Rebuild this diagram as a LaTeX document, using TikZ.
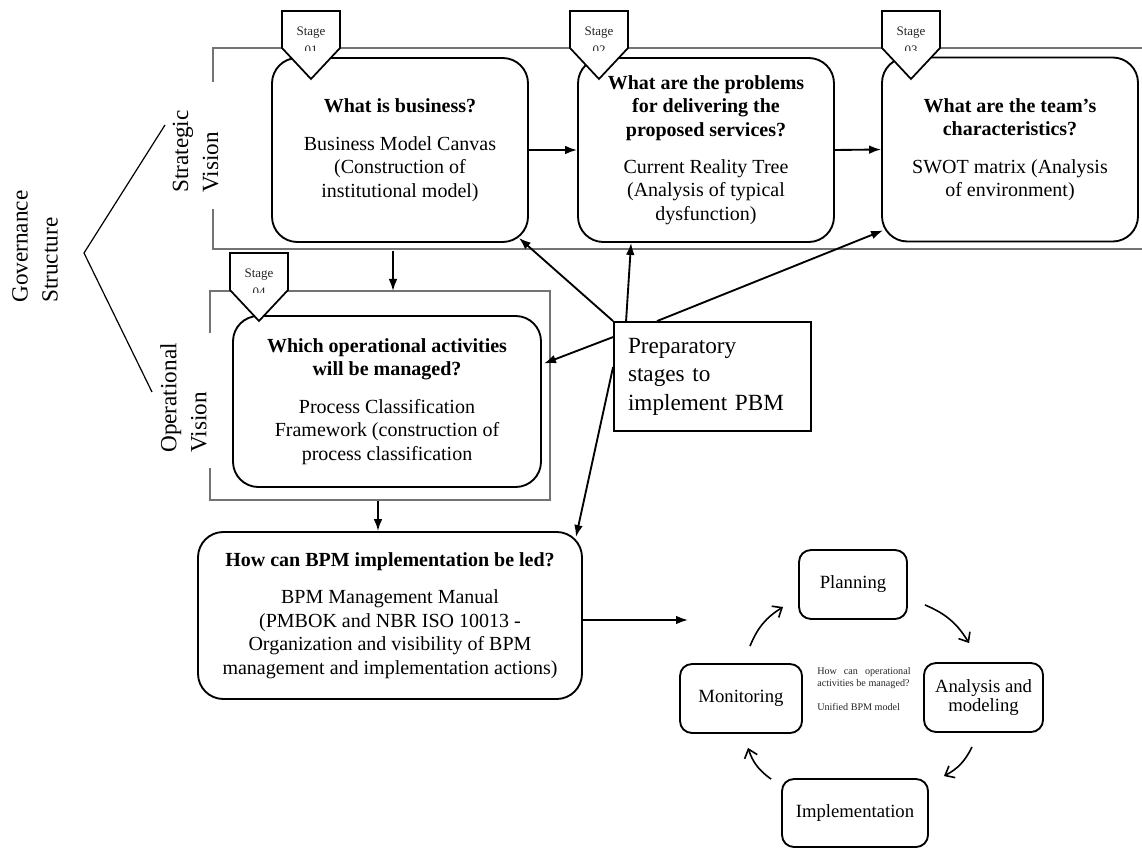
\documentclass[tikz,border=0pt]{standalone}
\usepackage{fontspec}
\setmainfont{Liberation Serif}
\usetikzlibrary{arrows.meta,calc}

\begin{document}
\begin{tikzpicture}[x=0.75pt,y=-0.75pt,
  qbox/.style={draw, line width=1.4pt, rounded corners=19pt, align=center,
    inner sep=0pt, font=\fontsize{15}{17.6}\selectfont},
  cbox/.style={draw, line width=1.4pt, rounded corners=9pt, align=center,
    inner sep=0pt, minimum height=51.75pt, font=\fontsize{14}{14}\selectfont},
  prepbox/.style={draw, line width=1.4pt, align=left, inner xsep=10.5pt,
    inner ysep=0pt, text width=126.75pt, minimum height=81.75pt,
    font=\fontsize{17.4}{21.4}\selectfont},
  vlabel/.style={rotate=90, anchor=west, align=left, inner sep=0pt,
    font=\fontsize{17.4}{22.5}\selectfont},
  frameline/.style={draw=black!55, line width=0.9pt},
  badge/.style={draw, fill=white, line width=1.3pt, line join=miter},
  stagetxt/.style={inner sep=0pt, font=\fontsize{9.75}{11}\selectfont, text=black!85},
  arr/.style={-{Latex[length=9pt,width=6.5pt]}, line width=1.4pt},
  cyc/.style={-{Straight Barb[length=6pt,width=10pt]}, line width=1.2pt, bend left=18}]

\useasboundingbox (0,0) rectangle (1142,848);

% frame coordinates
\coordinate (sfNW) at (213,48);
\coordinate (sfSE) at (1142,249);
\coordinate (opNW) at (210,291);
\coordinate (opSE) at (550,500);

% strategic and operational frames (left edges broken for the labels)
\draw[frameline] (213,82) -- (sfNW) -- (sfNW -| sfSE);
\draw[frameline] (213,209) -- (sfSE -| sfNW) -- (sfSE);
\draw[frameline] (210,333) -- (opNW) -- (opNW -| opSE) -- (opSE) -- (opSE -| opNW) -- (210,468);

% governance bracket and vertical labels
\coordinate (gvTop) at (165,125);
\coordinate (gvMid) at (84,253);
\coordinate (gvBot) at (152,392);
\draw[line width=0.9pt] (gvTop) -- (gvMid) -- (gvBot);
\node[vlabel] (gov) at (35,303) {Governance\\Structure};
\node[vlabel] (strat) at (195.5,193) {Strategic\\Vision};
\node[vlabel] (oper) at (183.5,453) {Operational\\Vision};

% question boxes
\node[qbox, minimum width=192pt, minimum height=138pt] (b1) at (400,150)
  {\textbf{What is business?}\\[10.5pt]Business Model Canvas\\(Construction of\\institutional model)};
\node[qbox, minimum width=192pt, minimum height=138pt] (b2) at (706,150)
  {\textbf{What are the problems}\\\textbf{for delivering the}\\\textbf{proposed services?}\\[10.5pt]Current Reality Tree\\(Analysis of typical\\dysfunction)};
\node[qbox, minimum width=192pt, minimum height=138pt] (b3) at (1010,149.5)
  {\textbf{What are the team’s}\\\textbf{characteristics?}\\[10.5pt]SWOT matrix (Analysis\\of environment)};
\node[qbox, minimum width=231pt, minimum height=128.25pt] (b4) at (387,401.5)
  {\textbf{Which operational activities}\\\textbf{will be managed?}\\[10.5pt]Process Classification\\Framework (construction of\\process classification};
\node[qbox, minimum width=288pt, minimum height=125.25pt] (b5) at (390,615.5)
  {\textbf{How can BPM implementation be led?}\\[10.5pt]BPM Management Manual\\(PMBOK and NBR ISO 10013 -\\Organization and visibility of BPM\\management and implementation actions)};

% preparatory stages box
\node[prepbox] (prep) at (712.5,376.5) {Preparatory\\stages to\\implement PBM};

% stage badges
\foreach \xa/\ya/\num in {282/11/01, 570/11/02, 882/11/03, 230/253/04}{
  \draw[badge] (\xa,\ya) -- ++(58,0) -- ++(0,37) -- ++(-29,31) -- ++(-29,-31) -- cycle;
  \begin{scope}
    \clip (\xa,\ya) rectangle ++(58,40);
    \node[stagetxt, anchor=base] (st-\num) at (\xa+29,\ya+25) {Stage};
    \node[stagetxt, anchor=base] (sn-\num) at (\xa+29,\ya+44) {\num};
  \end{scope}
}

% flow between the stages
\draw[arr] (b1.east) -- (b2.west);
\draw[arr] (b2.east) -- (b3.west);
\coordinate (d1) at (393,251);
\draw[arr] (d1) -- (d1 |- opNW);
\coordinate (d2) at (378,501);
\draw[arr] (d2) -- (d2 |- b5.north);

% preparatory links
\draw[arr] (prep.north west) -- ($(b1.south east)+(-10,-5)$);
\draw[arr] ($(prep.north west)+(13,0)$) -- ($(b2.south west)+(54,0)$);
\draw[arr] ($(prep.north west)+(44,0)$) -- ($(b3.south west)+(2,-12)$);
\draw[arr] ($(prep.north west)+(0,16)$) -- ($(b4.east)+(2,-38)$);
\draw[arr] ($(prep.north west)+(0,46)$) -- ($(b5.north east)+(-7,6)$);

% into the management cycle
\coordinate (cycIn) at (688,620);
\draw[arr] (b5.east |- cycIn) -- (cycIn);

% management cycle
\node[cbox, minimum width=81pt] (plan) at (853,584.5) {Planning};
\node[cbox, minimum width=89.25pt] (ana) at (983.5,697.5) {Analysis and\\modeling};
\node[cbox, minimum width=109.5pt, minimum height=51pt] (imp) at (855,813) {Implementation};
\node[cbox, minimum width=91.5pt] (mon) at (741,698.5) {Monitoring};

\node[anchor=north west, inner sep=0pt, text width=70pt, align=justify,
  font=\fontsize{7.6}{9}\selectfont, text=black!85] (core) at (817,667)
  {How can operational activities be managed?\par\vspace{9pt}Unified BPM model};

\coordinate (mA) at ($(mon.north)+(9,-17)$);
\coordinate (pA) at ($(plan.west)+(-15,22.5)$);
\coordinate (pB) at ($(plan.south east)+(17,-15)$);
\coordinate (aA) at ($(ana.north)+(-14.5,-19)$);
\coordinate (aB) at ($(ana.south)+(-11.5,14)$);
\coordinate (iA) at ($(imp.north east)+(15,-2)$);
\coordinate (iB) at ($(imp.north west)+(-10,1)$);
\coordinate (mB) at ($(mon.south)+(7,14)$);
\draw[cyc] (mA) to (pA);
\draw[cyc] (pB) to (aA);
\draw[cyc] (aB) to (iA);
\draw[cyc] (iB) to (mB);

\end{tikzpicture}
\end{document}
